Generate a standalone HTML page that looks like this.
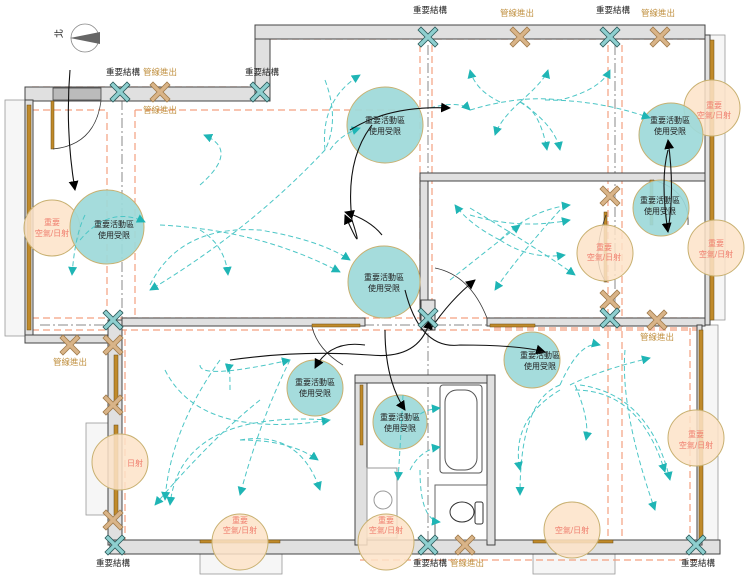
<!DOCTYPE html>
<html><head><meta charset="utf-8"><style>
html,body{margin:0;padding:0;background:#fff;width:750px;height:579px;overflow:hidden}
svg{display:block}
text{font-family:"Liberation Sans","Noto Sans CJK TC",sans-serif}
</style></head><body>
<svg width="750" height="579" viewBox="0 0 750 579" xmlns="http://www.w3.org/2000/svg">
<defs>
<marker id="ca" viewBox="0 0 10 10" refX="9" refY="5" markerWidth="9" markerHeight="9" orient="auto"><path d="M0,0 L10,5 L0,10 z" fill="#1fb5b5"/></marker>
<marker id="ba" viewBox="0 0 10 10" refX="9" refY="5" markerWidth="9" markerHeight="9" orient="auto"><path d="M0,0 L10,5 L0,10 z" fill="#000"/></marker>
<g id="xt"><path d="M-10,-7 L-7,-10 L0,-3 L7,-10 L10,-7 L3,0 L10,7 L7,10 L0,3 L-7,10 L-10,7 L-3,0 z" fill="#8ecfcf" stroke="#2a5a5a" stroke-width="0.8"/></g>
<g id="xb"><path d="M-10,-7 L-7,-10 L0,-3 L7,-10 L10,-7 L3,0 L10,7 L7,10 L0,3 L-7,10 L-10,7 L-3,0 z" fill="#d9b488" stroke="#a07a4a" stroke-width="0.8"/></g>
</defs>

<!-- window panels -->
<g fill="#f6f6f6" stroke="#999" stroke-width="0.8">
<rect x="5" y="100" width="20" height="236"/>
<rect x="710" y="35" width="15" height="285"/>
<rect x="700" y="325" width="18" height="222"/>
<rect x="86" y="423" width="22" height="92"/>
<rect x="200" y="548" width="82" height="26"/>
<rect x="533" y="548" width="82" height="26"/>
</g>

<!-- pink dashed lines -->
<g fill="none" stroke="#f4a080" stroke-width="1.2" stroke-dasharray="7,4">
<path d="M32,87 H255 M32,110 H107 V318 M135,110 H420 M135,110 V318 M32,318 H700 M32,330 H700"/>
<path d="M432,45 V318 M420,45 V318 M608,45 V540 M622,45 V540 M270,39 H705"/>
<path d="M360,560 H700 M110,545 V330 M125,555 V330 M494,328 H700 M690,328 V540"/>
</g>
<g fill="none" stroke="#888" stroke-width="1" stroke-dasharray="10,3,2,3">
<path d="M40,94 H260 M270,32 H700 M122,100 V318 M428,45 V540 M615,45 V318 M40,325 H700 M120,548 H700"/>
</g>

<!-- walls -->
<g fill="#e0e0e0" stroke="#444" stroke-width="1">
<rect x="25" y="87" width="245" height="14"/>
<rect x="255" y="25" width="15" height="76"/>
<rect x="255" y="25" width="450" height="14"/>
<rect x="25" y="100" width="8" height="237"/>
<rect x="25" y="335" width="88" height="8"/>
<rect x="108" y="320" width="14" height="225"/>
<rect x="122" y="318" width="243" height="8"/>
<rect x="420" y="175" width="8" height="145"/>
<rect x="420" y="173" width="285" height="8"/>
<rect x="487" y="318" width="218" height="8"/>
<rect x="110" y="540" width="610" height="14"/>
<rect x="355" y="375" width="12" height="170"/>
<rect x="355" y="375" width="140" height="8"/>
<rect x="487" y="375" width="8" height="170"/>
<rect x="421" y="300" width="14" height="30"/>
<rect x="705" y="35" width="5" height="290"/>
<rect x="697" y="325" width="5" height="220"/>
</g>
<rect x="53" y="88" width="48" height="12" fill="#bbb" stroke="#444" stroke-width="0.8"/>
<g fill="#c08a2a" stroke="#6b4a10" stroke-width="0.5">
<rect x="51" y="101" width="3" height="48"/>
<rect x="27" y="105" width="4" height="225"/>
<rect x="312" y="324" width="48" height="3"/>
<rect x="490" y="324" width="45" height="3"/>
<rect x="604" y="212" width="3" height="70"/>
<rect x="650" y="180" width="3" height="45"/>
<rect x="710" y="40" width="4" height="280"/>
<rect x="699" y="330" width="4" height="210"/>
<rect x="114" y="355" width="4" height="50"/>
<rect x="114" y="425" width="4" height="90"/>
<rect x="200" y="540" width="80" height="3"/>
<rect x="533" y="540" width="80" height="3"/>
<rect x="360" y="385" width="3" height="60"/>
</g>

<!-- bathroom -->
<rect x="440" y="385" width="42" height="88" rx="3" fill="#fff" stroke="#555"/>
<rect x="445" y="390" width="32" height="80" rx="12" fill="#fff" stroke="#555"/>
<rect x="367" y="468" width="30" height="70" fill="#fff" stroke="#999"/>
<circle cx="383" cy="500" r="9" fill="#fff" stroke="#999"/>
<rect x="435" y="485" width="52" height="55" fill="#fff" stroke="#666"/>
<ellipse cx="462" cy="512" rx="12" ry="10" fill="#fff" stroke="#333"/>
<rect x="475" y="502" width="8" height="22" rx="2" fill="#fff" stroke="#333"/>

<g fill="none" stroke="#333" stroke-width="0.8">
<path d="M53,149 Q95,145 101,101"/>
<path d="M312,327 Q318,350 343,365"/>
<path d="M435,268 Q470,275 487,318"/>
<path d="M606,215 Q590,260 606,282"/>
<path d="M653,180 Q690,190 688,225"/>
</g>

<!-- circles -->
<g stroke="#c8b070" stroke-width="1">
<g fill="#fde3c8" fill-opacity="0.85">
<circle cx="52" cy="228" r="28"/><circle cx="712" cy="108" r="28"/>
<circle cx="605" cy="253" r="28"/><circle cx="716" cy="248" r="28"/>
<circle cx="120" cy="462" r="28"/><circle cx="240" cy="542" r="28"/>
<circle cx="386" cy="542" r="28"/><circle cx="572" cy="530" r="28"/>
<circle cx="696" cy="438" r="28"/>
</g>
<g fill="#9dd9d9" fill-opacity="0.92">
<circle cx="107" cy="227" r="37"/><circle cx="385" cy="125" r="38"/>
<circle cx="384" cy="282" r="36"/><circle cx="671" cy="135" r="32"/>
<circle cx="661" cy="208" r="28"/><circle cx="315" cy="388" r="28"/>
<circle cx="400" cy="422" r="27"/><circle cx="532" cy="360" r="28"/>
</g>
</g>

<!-- cyan dashed flow arrows -->
<g fill="none" stroke="#4cc6c6" stroke-width="1" stroke-dasharray="5,3" marker-end="url(#ca)">
<path d="M80,240 Q110,205 145,222"/><path d="M85,215 Q75,235 72,275"/>
<path d="M160,225 Q260,230 340,272"/><path d="M200,185 Q240,150 204,135"/>
<path d="M150,285 Q180,225 260,230 Q320,240 350,260"/>
<path d="M200,230 Q225,245 228,275"/><path d="M325,80 Q340,120 325,150 Q250,230 150,290"/>
<path d="M325,150 Q320,100 360,75"/><path d="M330,150 Q340,135 360,128"/>
<path d="M470,110 Q520,95 560,100 Q600,90 610,70"/>
<path d="M500,102 Q475,90 470,70"/><path d="M520,102 Q545,80 548,70"/>
<path d="M520,102 Q555,125 560,150"/><path d="M520,102 Q500,120 495,135"/>
<path d="M520,102 Q540,110 547,150"/><path d="M545,100 Q600,100 650,118"/>
<path d="M430,108 Q460,100 470,110"/>
<path d="M500,240 Q530,210 570,205"/><path d="M470,215 Q520,230 570,220"/>
<path d="M500,240 Q470,225 455,205"/><path d="M500,240 Q530,260 565,255"/>
<path d="M450,280 Q500,240 520,225"/><path d="M560,210 Q515,260 495,290"/>
<path d="M470,208 Q540,250 575,275"/>
<path d="M200,365 Q200,380 290,360"/>
<path d="M165,370 Q200,440 330,420"/><path d="M290,360 Q260,420 240,495"/>
<path d="M260,400 Q210,440 155,505"/><path d="M230,390 Q230,360 228,372"/>
<path d="M330,420 Q180,410 170,505"/><path d="M240,440 Q300,430 320,490"/>
<path d="M240,440 Q290,440 318,460"/><path d="M220,360 Q170,430 165,500"/>
<path d="M570,385 Q600,370 650,358"/><path d="M560,385 Q580,340 600,345"/>
<path d="M575,385 Q590,420 586,440"/><path d="M560,385 Q520,400 520,495"/>
<path d="M580,385 Q650,395 670,480"/><path d="M625,350 Q620,410 655,510"/>
<path d="M575,390 Q640,390 665,472"/><path d="M560,390 Q510,420 520,470"/>
<path d="M403,395 Q400,450 398,480"/><path d="M410,470 Q420,450 440,447"/>
<path d="M415,420 Q420,410 440,408"/>
<path d="M420,470 Q420,520 440,522"/>
</g>

<!-- black movement arrows -->
<g fill="none" stroke="#111" stroke-width="1.1" marker-end="url(#ba)">
<path d="M70,70 Q65,130 75,190"/>
<path d="M350,130 Q390,105 450,108"/>
<path d="M372,125 Q345,160 352,220 Q365,260 345,215"/>
<path d="M382,235 Q370,220 345,212"/>
<path d="M668,150 Q660,180 668,232"/><path d="M668,230 Q675,190 668,140"/>
<path d="M405,290 Q420,350 460,345 Q520,345 545,352"/>
<path d="M430,330 Q450,300 475,280"/>
<path d="M365,345 Q330,340 315,368"/>
<path d="M385,330 Q385,380 405,410"/>
<path d="M230,360 Q300,350 370,355 Q420,360 430,320"/>
</g>

<!-- X marks -->
<use href="#xb" x="160" y="92"/><use href="#xb" x="520" y="37"/><use href="#xb" x="660" y="37"/>
<use href="#xb" x="610" y="196"/><use href="#xb" x="610" y="300"/><use href="#xb" x="70" y="345"/>
<use href="#xb" x="113" y="345"/><use href="#xb" x="113" y="405"/><use href="#xb" x="113" y="520"/>
<use href="#xb" x="465" y="545"/><use href="#xb" x="657" y="320"/>
<use href="#xt" x="120" y="92"/><use href="#xt" x="260" y="92"/><use href="#xt" x="428" y="37"/>
<use href="#xt" x="610" y="37"/><use href="#xt" x="113" y="320"/><use href="#xt" x="428" y="318"/>
<use href="#xt" x="610" y="318"/><use href="#xt" x="115" y="545"/><use href="#xt" x="428" y="545"/>
<use href="#xt" x="696" y="545"/>

<!-- compass -->
<circle cx="85" cy="38" r="14" fill="none" stroke="#888" stroke-width="0.8"/>
<path d="M70,38 L100,32 L100,44 z" fill="#666"/>
<text x="58" y="42" font-size="9" transform="rotate(-90 58 38)">北</text>

<!-- labels -->
<g font-size="8.5" fill="#222" text-anchor="middle">
<text x="123" y="75">重要結構</text><text x="262" y="75">重要結構</text>
<text x="430" y="13">重要結構</text><text x="613" y="13">重要結構</text>
<text x="113" y="566">重要結構</text><text x="430" y="566">重要結構</text><text x="698" y="566">重要結構</text>
</g>
<g font-size="8.5" fill="#c09040" text-anchor="middle">
<text x="160" y="75">管線進出</text><text x="160" y="113">管線進出</text>
<text x="517" y="16">管線進出</text><text x="658" y="16">管線進出</text>
<text x="70" y="365">管線進出</text><text x="467" y="566">管線進出</text><text x="657" y="340">管線進出</text>
</g>
<g font-size="8" fill="#222" text-anchor="middle">
<text x="114" y="227">重要活動區</text><text x="114" y="238">使用受限</text>
<text x="385" y="123">重要活動區</text><text x="385" y="134">使用受限</text>
<text x="384" y="280">重要活動區</text><text x="384" y="291">使用受限</text>
<text x="670" y="123">重要活動區</text><text x="670" y="134">使用受限</text>
<text x="660" y="203">重要活動區</text><text x="660" y="214">使用受限</text>
<text x="315" y="385">重要活動區</text><text x="315" y="396">使用受限</text>
<text x="400" y="420">重要活動區</text><text x="400" y="431">使用受限</text>
<text x="540" y="358">重要活動區</text><text x="540" y="369">使用受限</text>
</g>
<g font-size="8" fill="#f08070" text-anchor="middle">
<text x="52" y="225">重要</text><text x="52" y="236">空氣/日射</text>
<text x="714" y="108">重要</text><text x="714" y="118">空氣/日射</text>
<text x="604" y="250">重要</text><text x="604" y="260">空氣/日射</text>
<text x="716" y="246">重要</text><text x="716" y="257">空氣/日射</text>
<text x="135" y="466">日射</text>
<text x="240" y="523">重要</text><text x="240" y="533">空氣/日射</text>
<text x="386" y="523">重要</text><text x="386" y="533">空氣/日射</text>
<text x="572" y="533">空氣/日射</text>
<text x="696" y="437">重要</text><text x="696" y="448">空氣/日射</text>
</g>
</svg>
</body></html>
